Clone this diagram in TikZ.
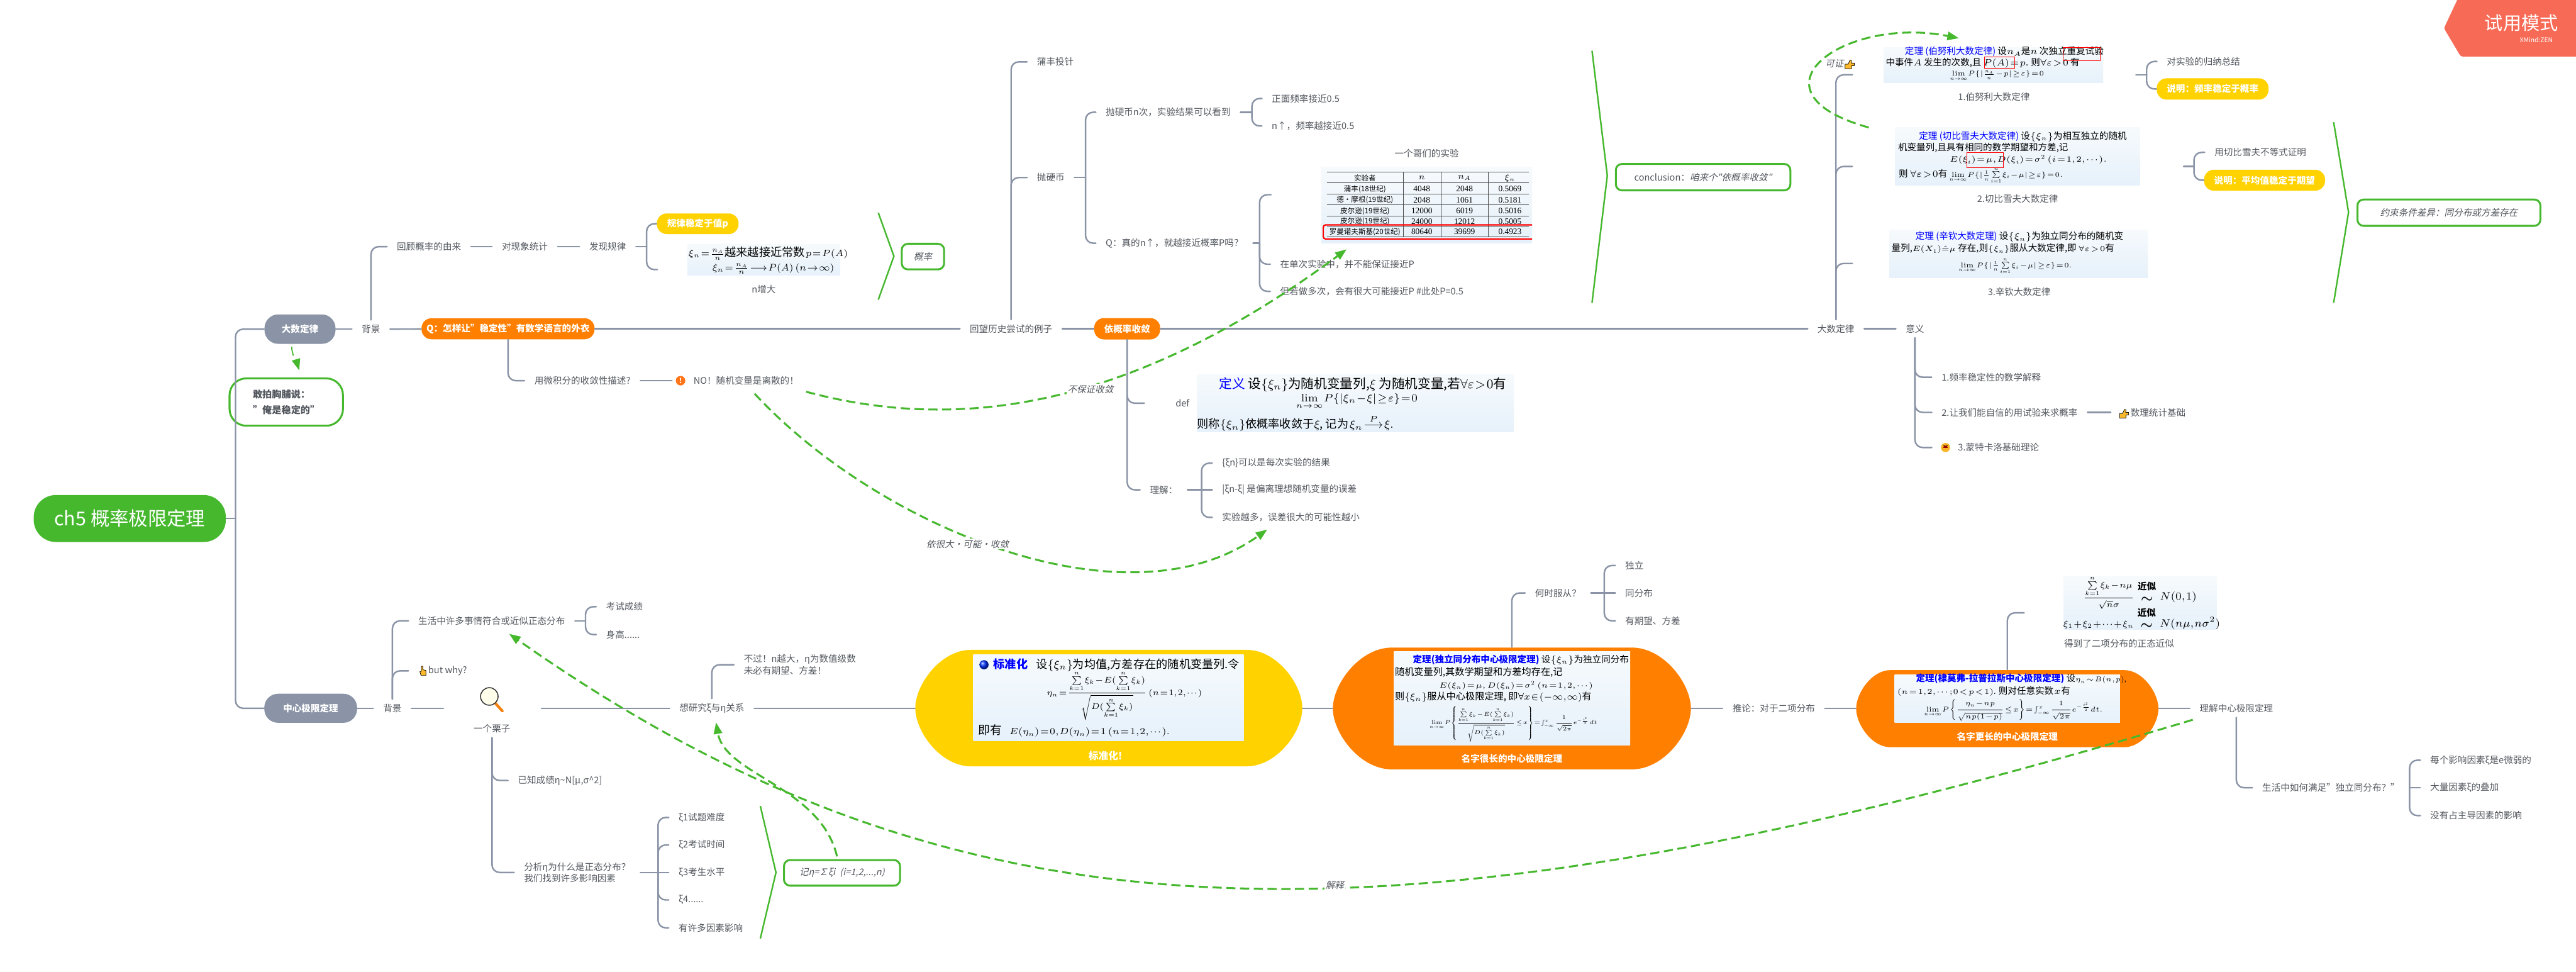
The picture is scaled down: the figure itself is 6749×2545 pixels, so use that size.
\RequirePackage{fix-cm}
\documentclass[tikz,border=0pt]{standalone}
\usepackage{amsmath}
\usepackage[no-math]{fontspec}
\setmainfont{Noto Sans CJK SC}
\newfontfamily\itfont[FakeSlant=0.22]{Noto Sans CJK SC}
\newfontfamily\serfont{Liberation Serif}
\usetikzlibrary{arrows.meta}
\newcommand\fs[1]{\fontsize{\fpeval{#1*0.2845}}{\fpeval{#1*0.36}}\selectfont}
\everymath{\thickmuskip=1.5mu\medmuskip=1mu\thinmuskip=1mu}
\definecolor{linec}{HTML}{8A94A6}
\definecolor{textc}{HTML}{53585F}
\definecolor{greenc}{HTML}{46B82E}
\definecolor{orangec}{HTML}{FF7F00}
\definecolor{yellowc}{HTML}{FFD200}
\definecolor{imga}{HTML}{F6FAFC}
\definecolor{imgb}{HTML}{E6F1FB}
\definecolor{trial}{HTML}{F76B56}
\definecolor{thumbc}{HTML}{FBB92B}
\definecolor{blueth}{HTML}{0000FF}
\tikzset{
 lbl/.style={font=\fs{24},text=textc,inner sep=0pt,outer xsep=.26cm,outer ysep=.13cm,align=left},
 lblw/.style={lbl,anchor=west},
 conn/.style={draw=linec,line width=.04cm,rounded corners=.2cm,line cap=round},
 relline/.style={draw=greenc,line width=.05cm,dash pattern=on .24cm off .12cm,-{Triangle[length=.3cm,width=.22cm,fill=greenc]}},
 reltxt/.style={font=\fs{24}\itfont,text=textc,fill=white,inner sep=.03cm},
 bracel/.style={draw=greenc,line width=.04cm,line join=round},
 greenbox/.style={draw=greenc,line width=.05cm,fill=white,rounded corners=.16cm,inner sep=0pt,font=\fs{24}\itfont,text=textc},
 solidnode/.style={rounded corners=.26cm,inner sep=0pt,text=white,font=\fs{24}\bfseries},
 imgbox/.style={rectangle,inner sep=0pt,top color=imga,bottom color=imgb},
 imtx/.style={font=\fs{24},text=black,inner sep=0pt,anchor=west},
 imtc/.style={font=\fs{24},text=black,inner sep=0pt},
 tbl/.style={font=\fs{19},text=black,inner sep=0pt},
 num/.style={font=\fs{22}\serfont,text=black,inner sep=0pt},
 tline/.style={draw=black!70,line width=.015cm},
 redbox/.style={draw=red,line width=.012cm},
 pillanchor/.style={rectangle,inner sep=0pt}
}
\newcommand\pillshape[6]{%
 \pgfmathsetmacro\pxa{#1+#5}\pgfmathsetmacro\pxb{#2-#5}\pgfmathsetmacro\pym{(#3+#4)/2}%
 \pgfmathsetmacro\pxc{#2-0.45*#5}\pgfmathsetmacro\pxd{#1+0.45*#5}%
 \pgfmathsetmacro\pyc{#3+0.3*(#4-#3)}\pgfmathsetmacro\pyd{#4-0.3*(#4-#3)}%
 \fill[#6] (\pxa,#3) -- (\pxb,#3) .. controls (\pxc,#3) and (#2,\pyc) .. (#2,\pym)
  .. controls (#2,\pyd) and (\pxc,#4) .. (\pxb,#4) -- (\pxa,#4)
  .. controls (\pxd,#4) and (#1,\pyd) .. (#1,\pym)
  .. controls (#1,\pyc) and (\pxd,#3) .. (\pxa,#3) -- cycle;}
\newcommand\thumbicon[2]{%
 \filldraw[fill=thumbc,draw=black,line width=.012cm,line join=round,shift={(#1,#2)}]
 (-12,-1) -- (-4,-1) -- (1,-12) -- (5,-11) -- (4,-4) -- (12,-4) -- (12,3) -- (5,3) -- (5,11) -- (-12,11) -- cycle;}
\newcommand\handicon[2]{%
 \filldraw[fill=thumbc,draw=black,line width=.012cm,line join=round,shift={(#1,#2)}]
 (-4,-12) -- (0,-12) -- (0,-3) -- (8,-1) -- (8,12) -- (-5,12) -- (-8,2) -- (-4,1) -- cycle;}
\newcommand\approxstack{\raisebox{-.06cm}{\shortstack{\fs{24}\bfseries 近似\\[.06cm]\fs{36}\boldmath$\sim$}}}
\begin{document}
\begin{tikzpicture}[x=.01cm,y=-.01cm]
\useasboundingbox (0,0) rectangle (6749,2545);
\fill[white] (0,0) rectangle (6749,2545);

% ---- large pill shapes
\pillshape{2398}{3412}{1702}{2007}{146}{yellowc}
\pillshape{3492}{4430}{1696}{2015}{155}{orangec}
\pillshape{4863}{5655}{1755}{1957}{90}{orangec}

% ---- trial badge
\fill[trial,rounded corners=.05cm] (6447,-20) -- (6403,74) -- (6447,148) -- (6770,148) -- (6770,-20) -- cycle;
\node[inner sep=0pt,text=white,font=\fs{48}] (trialtx) at (6606,60) {试用模式};
\node[inner sep=0pt,text=white,font=\fs{17}] (zentx) at (6645,104) {XMind:ZEN};

% ---- solid topic nodes
\node[fill=greenc,rounded corners=.58cm,inner sep=0pt,minimum width=5.03cm,minimum height=1.23cm,text=white,font=\fs{50}] (root) at (340,1358) {ch5 概率极限定理};
\node[solidnode,fill=linec,minimum width=1.86cm,minimum height=.77cm,rounded corners=.36cm] (dashu) at (786,862) {大数定律};
\node[solidnode,fill=linec,minimum width=2.43cm,minimum height=.76cm,rounded corners=.36cm] (zhongxin) at (814,1855) {中心极限定理};
\node[solidnode,fill=orangec,minimum width=4.53cm,minimum height=.55cm] (qnode) at (1331,861) {Q：怎样让"稳定性"有数学语言的外衣};
\node[solidnode,fill=orangec,minimum width=1.73cm,minimum height=.56cm] (yi) at (2953,861) {依概率收敛};
\node[solidnode,fill=yellowc,minimum width=2.14cm,minimum height=.54cm] (guilv) at (1828,586) {规律稳定于值p};
\node[solidnode,fill=yellowc,minimum width=2.93cm,minimum height=.56cm] (shuoming1) at (5797,233) {说明：频率稳定于概率};
\node[solidnode,fill=yellowc,minimum width=3.17cm,minimum height=.55cm] (shuoming2) at (5933,472) {说明：平均值稳定于期望};
\node[draw=greenc,line width=.05cm,fill=white,rounded corners=.44cm,minimum width=2.97cm,minimum height=1.24cm,font=\fs{25}\bfseries,text=textc,inner sep=0pt,align=left] (ganpai) at (750,1053) {敢拍胸脯说：\\[.1cm]"俺是稳定的"};

% ---- labels, upper half
\node[lbl] (bg1) at (972,862) {背景};
\node[lbl] (huigu) at (1124,646) {回顾概率的由来};
\node[lbl] (tongji) at (1375,646) {对现象统计};
\node[lbl] (faxian) at (1592,646) {发现规律};
\node[lbl] (nzeng) at (2001,757) {n增大};
\node[lbl] (calc) at (1526,997) {用微积分的收敛性描述?};
\node[fill=orange!80!red!90,circle,inner sep=0pt,minimum size=.25cm,outer sep=.1cm,text=white,font=\fs{18}\bfseries] (warn) at (1783,997) {!};
\node[lblw] (notext) at (1791,997) {NO！随机变量是离散的！};
\node[lbl] (huiwang) at (2649,861) {回望历史尝试的例子};
\node[lblw] (pufeng) at (2691,162) {蒲丰投针};
\node[lblw] (yingbi) at (2691,465) {抛硬币};
\node[lblw] (ncishu) at (2871,294) {抛硬币n次，实验结果可以看到};
\node[lblw] (zhenm) at (2871,637) {Q：真的n↑，就越接近概率P吗？};
\node[lblw] (zhengm) at (3306,258) {正面频率接近0.5};
\node[lblw] (nup) at (3306,330) {n↑，频率越接近0.5};
\node[lbl] (gemen) at (3738,402) {一个哥们的实验};
\node[lblw] (danci) at (3328,692) {在单次实验中，并不能保证接近P};
\node[lblw] (duoci) at (3328,763) {但若做多次，会有很大可能接近P \#此处P=0.5};
\node[lbl] (defx) at (3098,1056) {def};
\node[lbl] (lijie) at (3049,1283) {理解：};
\node[lblw] (lj1) at (3176,1213) {\{ξn\}可以是每次实验的结果};
\node[lblw] (lj2) at (3176,1283) {|ξn-ξ| 是偏离理想随机变量的误差};
\node[lblw] (lj3) at (3176,1355) {实验越多，误差很大的可能性越小};
\node[lbl] (dsl) at (4810,861) {大数定律};
\node[lbl] (yiyi) at (5017,861) {意义};
\node[lblw] (yy1) at (5061,988) {1.频率稳定性的数学解释};
\node[lblw] (yy2) at (5061,1080) {2.让我们能自信的用试验来求概率};
\node[lblw] (shuli) at (5530,1080) {\hspace{.26cm}数理统计基础};
\node[lblw] (yy3) at (5104,1172) {3.蒙特卡洛基础理论};
\node[lblw] (duishi) at (5651,161) {对实验的归纳总结};
\node[lblw] (yongqie) at (5776,399) {用切比雪夫不等式证明};
\node[lbl] (cap1) at (5224,254) {1.伯努利大数定律};
\node[lbl] (cap2) at (5286,521) {2.切比雪夫大数定律};
\node[lbl] (cap3) at (5290,764) {3.辛钦大数定律};

% ---- labels, lower half
\node[lbl] (bg2) at (1028,1855) {背景};
\node[lblw] (shenghuo) at (1070,1626) {生活中许多事情符合或近似正态分布};
\node[lblw] (kaoshi) at (1562,1589) {考试成绩};
\node[lblw] (shengao) at (1562,1662) {身高......};
\node[lblw] (butwhy) at (1070,1757) {\hspace{.26cm}but why?};
\node[lbl] (lizi) at (1289,1908) {一个栗子};
\node[inner sep=0pt,minimum width=2.55cm,minimum height=.2cm] (liziline) at (1290,1855) {};
\node[lbl] (yanjiu) at (1865,1855) {想研究ξ与η关系};
\node[lblw] (buguo) at (1923,1741) {不过！n越大，η为数值级数\\未必有期望、方差！};
\node[lblw] (yizhi) at (1331,2044) {已知成绩η\textasciitilde N[μ,σ\textasciicircum 2]};
\node[lblw] (fenxi) at (1347,2285) {分析η为什么是正态分布？\\我们找到许多影响因素};
\node[lblw] (xi1) at (1752,2141) {ξ1试题难度};
\node[lblw] (xi2) at (1752,2213) {ξ2考试时间};
\node[lblw] (xi3) at (1752,2285) {ξ3考生水平};
\node[lblw] (xi4) at (1752,2357) {ξ4......};
\node[lblw] (xi5) at (1752,2430) {有许多因素影响};
\node[lbl] (tuilun) at (4647,1855) {推论：对于二项分布};
\node[lbl] (heshi) at (4082,1553) {何时服从？};
\node[lblw] (duli) at (4232,1481) {独立};
\node[lblw] (tongfen) at (4232,1553) {同分布};
\node[lblw] (youqi) at (4232,1626) {有期望、方差};
\node[lbl] (capn) at (5552,1686) {得到了二项分布的正态近似};
\node[lbl] (lijiez) at (5859,1855) {理解中心极限定理};
\node[lblw] (shman) at (5901,2063) {生活中如何满足"独立同分布？"};
\node[lblw] (mei1) at (6341,1991) {每个影响因素ξ是e微弱的};
\node[lblw] (mei2) at (6341,2063) {大量因素ξ的叠加};
\node[lblw] (mei3) at (6341,2136) {没有占主导因素的影响};

% ---- pill anchors and captions
\node[pillanchor,minimum width=10.14cm,minimum height=3.05cm] (stdn) at (2905,1855) {};
\node[pillanchor,minimum width=9.38cm,minimum height=3.19cm] (oa) at (3961,1855) {};
\node[pillanchor,minimum width=7.92cm,minimum height=2.02cm] (ob) at (5259,1855) {};
\node[inner sep=0pt,text=white,font=\fs{26}\bfseries] (stdcap) at (2896,1980) {标准化!};
\node[inner sep=0pt,text=white,font=\fs{24}\bfseries] (oacap) at (3961,1987) {名字很长的中心极限定理};
\node[inner sep=0pt,text=white,font=\fs{24}\bfseries] (obcap) at (5259,1929) {名字更长的中心极限定理};

% ---- picture boxes
\node[imgbox,minimum width=3.99cm,minimum height=.81cm] (imA) at (2000.5,680.5) {};
\node[imgbox,minimum width=5.74cm,minimum height=.93cm] (imB) at (5223,170.5) {};
\node[imgbox,minimum width=6.41cm,minimum height=1.52cm] (imC) at (5285.5,410) {};
\node[imgbox,minimum width=6.76cm,minimum height=1.25cm] (imD) at (5289,664.5) {};
\node[imgbox,minimum width=8.30cm,minimum height=1.49cm] (imDef) at (3551,1056.5) {};
\node[imgbox,minimum width=5.52cm,minimum height=1.98cm] (imT) at (3738,537) {};
\node[imgbox,minimum width=7.08cm,minimum height=2.25cm] (imS) at (2904,1827.5) {};
\node[imgbox,minimum width=6.19cm,minimum height=2.45cm] (imO) at (3961.5,1829.5) {};
\node[imgbox,minimum width=5.90cm,minimum height=1.26cm] (imP) at (5259,1830) {};
\node[imgbox,minimum width=4.00cm,minimum height=1.39cm] (imN) at (5607,1579.5) {};

% ---- picture box A
\node[imtx,font=\fs{30}] (a1) at (1803,664) {\fs{24}$\xi_n=\frac{n_A}{n}$\fs{30}越来越接近常数\fs{24}$\,p=P(A)$};
\node[imtc,font=\fs{25}] (a2) at (2026,704) {$\xi_n=\frac{n_A}{n}\longrightarrow P(A)\;\;(n\to\infty)$};

% ---- theorem 1
\node[imtx] (b1) at (4990,135) {\textcolor{blueth}{定理 (伯努利大数定律)} 设$n_A$是$n$ 次独立重复试验};
\node[imtx] (b2) at (4940,165) {中事件$A$ 发生的次数,且 $P(A)=p$. 则$\forall\varepsilon>0$ 有};
\node[imtc,font=\fs{18}] (b3) at (5232,199) {$\lim\limits_{n\to\infty}P\{|\frac{n_A}{n}-p|\geq\varepsilon\}=0$};
\draw[redbox] (5199,149) rectangle (5278,178);
\draw[redbox] (5405,124) rectangle (5502,159);

% ---- theorem 2
\node[imtx] (c1) at (5027,357) {\textcolor{blueth}{定理 (切比雪夫大数定律)} 设$\{\xi_n\}$为相互独立的随机};
\node[imtx] (c2) at (4972,387) {机变量列,且具有相同的数学期望和方差,记};
\node[imtc,font=\fs{21}] (c3) at (5314,418) {$E(\xi_i)=\mu,D(\xi_i)=\sigma^2\;\;(i=1,2,\cdots).$};
\node[imtx] (c4) at (4974,460) {则 $\forall\varepsilon>0$有 \fs{18}$\lim\limits_{n\to\infty}P\{|\frac1n\sum\limits_{i=1}^{n}\xi_i-\mu|\geq\varepsilon\}=0.$};
\draw[redbox] (5153,399) rectangle (5248,439);

% ---- theorem 3
\node[imtx] (d1) at (5018,620) {\textcolor{blueth}{定理 (辛钦大数定理)} 设$\{\xi_n\}$为独立同分布的随机变};
\node[imtx] (d2) at (4955,651) {量列,\fs{20}$E(X_1)\hat{=}\mu$\fs{24} 存在,则\fs{20}$\{\xi_n\}$\fs{24}服从大数定律,即 \fs{20}$\forall\varepsilon>0$\fs{24}有};
\node[imtc,font=\fs{18}] (d3) at (5280,697) {$\lim\limits_{n\to\infty}P\{|\frac1n\sum\limits_{i=1}^{n}\xi_i-\mu|\geq\varepsilon\}=0.$};

% ---- definition
\node[imtx,font=\fs{34}] (e1) at (3194,1007) {\textcolor{blueth}{定义} 设$\{\xi_n\}$为随机变量列,$\xi$ 为随机变量,若$\forall\varepsilon>0$有};
\node[imtc,font=\fs{28}] (e2) at (3555,1052) {$\lim\limits_{n\to\infty}P\{|\xi_n-\xi|\geq\varepsilon\}=0$};
\node[imtx,font=\fs{30}] (e3) at (3136,1108) {则称$\{\xi_n\}$依概率收敛于$\xi$, 记为$\;\xi_n\stackrel{P}{\longrightarrow}\xi.$};

% ---- table
\draw[tline] (3476,451) -- (4005,451) (3476,479) -- (4005,479) (3476,508) -- (4005,508) (3476,537) -- (4005,537) (3476,566) -- (4005,566) (3476,593) -- (4005,593) (3476,621) -- (4005,621);
\draw[tline] (3676,451) -- (3676,621) (3775,451) -- (3775,621) (3899,451) -- (3899,621);
\foreach \nm/\yy/\ta/\tb/\tc/\td in {r0/466/实验者/$n$/$n_A$/$\xi_n$,
  r1/495/蒲丰(18世纪)/4048/2048/0.5069,r2/524/德·摩根(19世纪)/2048/1061/0.5181,
  r3/553/皮尔逊(19世纪)/12000/6019/0.5016,r4/580/皮尔逊(19世纪)/24000/12012/0.5005,
  r5/607/罗曼诺夫斯基(20世纪)/80640/39699/0.4923}{
  \node[tbl] (\nm a) at (3576,\yy) {\ta};
  \node[num] (\nm b) at (3725,\yy) {\tb};
  \node[num] (\nm c) at (3837,\yy) {\tc};
  \node[num] (\nm d) at (3956,\yy) {\td};
}
\draw[draw=red,line width=.035cm,rounded corners=.06cm] (4014,589) -- (3467,589) -- (3467,626) -- (4014,626);

% ---- standardisation picture
\shade[ball color=blue!80!cyan] (2578,1741) circle (12);
\node[imtx,font=\fs{30}] (s1) at (2602,1741) {\textcolor{blueth}{\bfseries 标准化}\hspace{.22cm}设$\{\xi_n\}$为均值,方差存在的随机变量列.令};
\node[imtc,font=\fs{22}] (s2) at (2946,1822) {$\eta_n=\dfrac{\sum\limits_{k=1}^{n}\xi_k-E(\sum\limits_{k=1}^{n}\xi_k)}{\sqrt{D(\sum\limits_{k=1}^{n}\xi_k)}}\;\;(n=1,2,\cdots)$};
\node[imtx,font=\fs{31}] (s3) at (2562,1914) {即有\hspace{.2cm}\fs{24}$E(\eta_n)=0,D(\eta_n)=1\;\;(n=1,2,\cdots).$};

% ---- central limit theorem picture
\node[imtx,font=\fs{24}] (o1) at (3701,1728) {\textcolor{blueth}{\bfseries 定理(独立同分布中心极限定理)} 设$\{\xi_n\}$为独立同分布};
\node[imtx,font=\fs{25}] (o2) at (3654,1760) {随机变量列,其数学期望和方差均存在,记};
\node[imtc,font=\fs{20}] (o3) at (3972,1795) {$E(\xi_n)=\mu,\;D(\xi_n)=\sigma^2\;\;(n=1,2,\cdots)$};
\node[imtx,font=\fs{25}] (o4) at (3654,1826) {则$\{\xi_n\}$服从中心极限定理, 即$\forall x\in(-\infty,\infty)$有};
\node[imtc,font=\fs{15}] (o5) at (3965,1896) {$\lim\limits_{n\to\infty}P\left\{\dfrac{\sum\limits_{k=1}^{n}\xi_k-E(\sum\limits_{k=1}^{n}\xi_k)}{\sqrt{D(\sum\limits_{k=1}^{n}\xi_k)}}\leq x\right\}=\int_{-\infty}^{x}\dfrac{1}{\sqrt{2\pi}}e^{-\frac{t^2}{2}}dt$};

% ---- de Moivre picture
\node[imtx,font=\fs{24}] (p1) at (5019,1778) {\textcolor{blueth}{\bfseries 定理(棣莫弗-拉普拉斯中心极限定理)} 设\fs{18}$\eta_n\sim B(n,p)$,};
\node[imtx,font=\fs{24}] (p2) at (4970,1810) {\fs{20}$(n=1,2,\cdots;0<p<1)$.\fs{24} 则对任意实数$\,x\,$有};
\node[imtc,font=\fs{18}] (p3) at (5275,1860) {$\lim\limits_{n\to\infty}P\left\{\dfrac{\eta_n-np}{\sqrt{np(1-p)}}\leq x\right\}=\int_{-\infty}^{x}\dfrac{1}{\sqrt{2\pi}}e^{-\frac{t^2}{2}}dt.$};

% ---- normal approximation picture
\node[imtc,font=\fs{30}] (n1) at (5607,1552) {\fs{22}$\dfrac{\sum\limits_{k=1}^{n}\xi_k-n\mu}{\sqrt{n}\sigma}$\hspace{.1cm}\approxstack\hspace{.1cm}\fs{28}$N(0,1)$};
\node[imtc,font=\fs{30}] (n2) at (5611,1621) {\fs{23}$\xi_1+\xi_2+\cdots+\xi_n$\hspace{.1cm}\approxstack\hspace{.1cm}\fs{28}$N(n\mu,n\sigma^2)$};

% ---- green boxes
\node[greenbox,minimum width=1.11cm,minimum height=.67cm] (gailv) at (2418,672) {概率};
\node[greenbox,minimum width=4.57cm,minimum height=.69cm] (concl) at (4462,464) {{\fs{24}\rmfamily conclusion：}咱来个"依概率收敛"};
\node[greenbox,minimum width=4.79cm,minimum height=.69cm] (yueshu) at (6416,557) {约束条件差异：同分布或方差存在};
\node[greenbox,minimum width=3.04cm,minimum height=.67cm] (jieta) at (2206,2286) {记η=∑ξi\hspace{.12cm}(i=1,2,...,n)};

% ---- green braces
\coordinate (ba1) at (2301,557); \coordinate (ba2) at (2342,671); \coordinate (ba3) at (2301,785);
\coordinate (bb1) at (4171,133); \coordinate (bb2) at (4211,460); \coordinate (bb3) at (4171,793);
\coordinate (bc1) at (6114,320); \coordinate (bc2) at (6153,556); \coordinate (bc3) at (6114,793);
\coordinate (bd1) at (1992,2111); \coordinate (bd2) at (2033,2285); \coordinate (bd3) at (1992,2458);
\draw[bracel] (ba1) -- (ba2) -- (ba3);
\draw[bracel] (bb1) -- (bb2) -- (bb3);
\draw[bracel] (bc1) -- (bc2) -- (bc3);
\draw[bracel] (bd1) -- (bd2) -- (bd3);

% ---- tree connectors, upper
\coordinate (ft) at (617,1358);
\draw[conn] (root.east) -- (ft);
\draw[conn] (ft) |- (dashu.west);
\draw[conn] (ft) |- (zhongxin.west);
\draw[conn] (dashu) -- (bg1);
\draw[conn] (bg1) -- (qnode);
\draw[conn] (bg1.north) |- (huigu.west);
\draw[conn] (huigu) -- (tongji);
\draw[conn] (tongji) -- (faxian);
\coordinate (f1) at (1694,646); \coordinate (f1b) at (1722,706);
\draw[conn] (faxian) -- (f1);
\draw[conn] (f1) |- (guilv.west);
\draw[conn] (f1) |- (f1b);
\draw[conn] (qnode.south) |- (calc.west);
\draw[conn] (calc.east) -- (warn.west);
\draw[conn] (qnode) -- (huiwang);
\draw[conn] (huiwang) -- (yi);
\draw[conn] (yi) -- (dsl);
\draw[conn] (dsl) -- (yiyi);
\draw[conn] (huiwang.north) |- (pufeng.west);
\draw[conn] (huiwang.north) |- (yingbi.west);
\coordinate (f2) at (2844,465);
\draw[conn] (yingbi.east) -- (f2);
\draw[conn] (f2) |- (ncishu.west);
\draw[conn] (f2) |- (zhenm.west);
\coordinate (f3) at (3280,294);
\draw[conn] (ncishu.east) -- (f3);
\draw[conn] (f3) |- (zhengm.west);
\draw[conn] (f3) |- (nup.west);
\coordinate (f4) at (3300,637); \coordinate (f4t) at (3330,510);
\draw[conn] (zhenm.east) -- (f4);
\draw[conn] (f4) |- (f4t);
\draw[conn] (f4) |- (danci.west);
\draw[conn] (f4) |- (duoci.west);
\coordinate (defin) at (2998,1056);
\draw[conn] (yi.south) |- (defin);
\draw[conn] (yi.south) |- (lijie.west);
\coordinate (f5) at (3148,1283);
\draw[conn] (lijie.east) -- (lj2.west);
\draw[conn] (f5) |- (lj1.west);
\draw[conn] (f5) |- (lj3.west);
\coordinate (dsa) at (4853,196); \coordinate (dsb) at (4853,436); \coordinate (dsc) at (4853,690);
\draw[conn] (dsl.north) |- (dsa);
\draw[conn] (dsl.north) |- (dsb);
\draw[conn] (dsl.north) |- (dsc);
\coordinate (yy3s) at (5061,1172);
\draw[conn] (yiyi.south) |- (yy1.west);
\draw[conn] (yiyi.south) |- (yy2.west);
\draw[conn] (yiyi.south) |- (yy3s);
\draw[conn] (yy2.east) -- (shuli.west);
\coordinate (o1s) at (5596,196); \coordinate (f6) at (5624,196);
\draw[conn] (o1s) -- (f6);
\draw[conn] (f6) |- (duishi.west);
\draw[conn] (f6) |- (shuoming1.west);
\coordinate (o2s) at (5721,436); \coordinate (f7) at (5748,436);
\draw[conn] (o2s) -- (f7);
\draw[conn] (f7) |- (yongqie.west);
\draw[conn] (f7) |- (shuoming2.west);

% ---- tree connectors, lower
\draw[conn] (zhongxin) -- (bg2);
\draw[conn] (bg2.north) |- (shenghuo.west);
\draw[conn] (bg2.north) |- (butwhy.west);
\coordinate (g1) at (1534,1626);
\draw[conn] (shenghuo.east) -- (g1);
\draw[conn] (g1) |- (kaoshi.west);
\draw[conn] (g1) |- (shengao.west);
\draw[conn] (bg2) -- (liziline);
\draw[conn] (liziline) -- (yanjiu);
\draw[conn] (yanjiu) -- (stdn);
\draw[conn] (stdn) -- (oa);
\draw[conn] (oa) -- (tuilun);
\draw[conn] (tuilun) -- (ob);
\draw[conn] (ob) -- (lijiez);
\draw[conn] (yanjiu.north) |- (buguo.west);
\draw[conn] (lizi.south) |- (yizhi.west);
\draw[conn] (lizi.south) |- (fenxi.west);
\coordinate (g2) at (1724,2285);
\draw[conn] (fenxi.east) -- (xi3.west);
\draw[conn] (g2) |- (xi1.west);
\draw[conn] (g2) |- (xi2.west);
\draw[conn] (g2) |- (xi4.west);
\draw[conn] (g2) |- (xi5.west);
\draw[conn] (oa.north) |- (heshi.west);
\coordinate (g3) at (4203,1553);
\draw[conn] (heshi.east) -- (tongfen.west);
\draw[conn] (g3) |- (duli.west);
\draw[conn] (g3) |- (youqi.west);
\coordinate (obup) at (5303,1605);
\draw[conn] (ob.north) |- (obup);
\draw[conn] (lijiez.south) |- (shman.west);
\coordinate (g4) at (6313,2063);
\draw[conn] (shman.east) -- (mei2.west);
\draw[conn] (g4) |- (mei1.west);
\draw[conn] (g4) |- (mei3.west);

% ---- icons
\draw[line width=.07cm,draw=orange!85!brown,line cap=round] (1298,1842) -- (1316,1862);
\filldraw[fill=yellow!8,draw=black!80,line width=.025cm] (1282,1824) circle (23);
\thumbicon{5565}{1084}
\handicon{1108}{1757}
\fill[thumbc!90!orange] (5097,1172) circle (12);
\fill[black] (5093,1167) circle (1.6) (5101,1167) circle (1.6);
\fill[red!60!black] (5091,1173) -- (5103,1173) arc (0:-180:6) -- cycle;

% ---- dashed relationship lines
\coordinate (ra1) at (764,908); \coordinate (ra2) at (784,970);
\draw[relline,line width=.03cm] (ra1) .. controls (766,935) and (778,950) .. (ra2);
\coordinate (rb1) at (2112,1026); \coordinate (rb2) at (3528,653);
\draw[relline] (rb1) .. controls (2500,1130) and (2950,1080) .. (rb2);
\coordinate (rc1) at (1977,1031); \coordinate (rc2) at (3320,1387);
\draw[relline] (rc1) .. controls (2300,1380) and (2950,1650) .. (rc2);
\coordinate (rd1) at (4896,334); \coordinate (rd2) at (5132,100);
\draw[relline] (rd1) .. controls (4560,240) and (4830,40) .. (rd2);
\coordinate (re1) at (2193,2243); \coordinate (re2) at (1876,1892);
\draw[relline] (re1) .. controls (2150,2060) and (1900,2030) .. (re2);
\coordinate (rf1) at (5745,1885); \coordinate (rf2) at (1334,1660);
\draw[relline] (rf1) .. controls (3600,2530) and (2500,2480) .. (rf2);
\node[reltxt] (rbt) at (2857,1019) {不保证收敛};
\node[reltxt] (rct) at (2535,1425) {依很大·可能·收敛};
\node[reltxt] (rdt) at (4806,166) {可证};
\node[reltxt] (rft) at (3497,2318) {解释};
\thumbicon{4846}{169}
\end{tikzpicture}
\end{document}
